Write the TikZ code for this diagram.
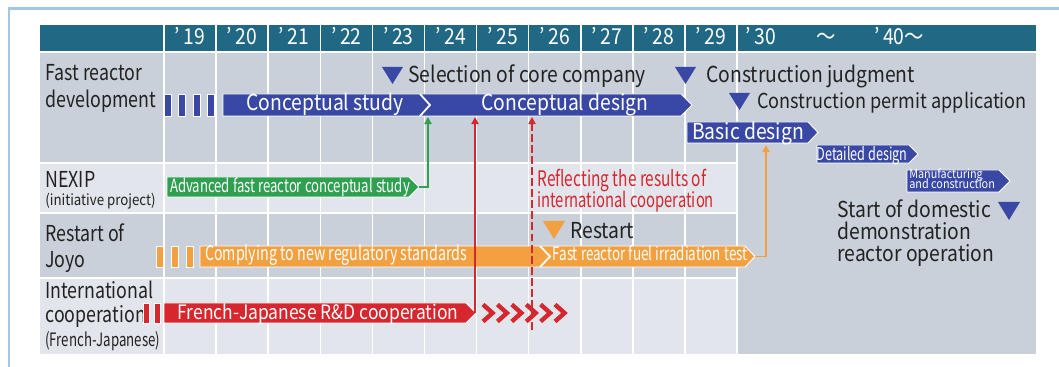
\documentclass[tikz,border=0pt]{standalone}
\usepackage{fontspec}
\setmainfont{Noto Sans CJK JP}[FakeStretch=0.88]
\newfontfamily\narrowfont[FakeStretch=0.72]{Noto Sans CJK JP}
\newfontfamily\labelfont[FakeStretch=0.81]{Noto Sans CJK JP}
\usetikzlibrary{arrows.meta}

\definecolor{frameblue}{RGB}{160,198,234}
\definecolor{headteal}{RGB}{32,104,132}
\definecolor{rowdark}{RGB}{201,208,218}
\definecolor{rowlight}{RGB}{226,230,236}
\definecolor{barblue}{RGB}{56,72,164}
\definecolor{bargreen}{RGB}{46,160,80}
\definecolor{barorange}{RGB}{242,160,64}
\definecolor{barred}{RGB}{214,38,46}
\definecolor{inkgray}{RGB}{34,34,34}

\begin{document}
\begin{tikzpicture}[x=0.02cm, y=-0.02cm, >={Triangle[length=4pt,width=4pt]},
	every node/.style={inner sep=0pt, font=\fontsize{12.5}{14}\selectfont, text=inkgray},
	yearlab/.style={anchor=base, text=white},
	rowlab/.style={anchor=base west},
	headlab/.style={anchor=base west, font=\labelfont\fontsize{12.5}{14}\selectfont},
	bartext/.style={anchor=base, text=white},
	narrow/.style={font=\narrowfont\fontsize{#1}{12}\selectfont},
	narrow/.default=10.4,
	tinytext/.style={anchor=base west, text=white, font=\fontsize{7}{7}\selectfont},
	gbar/.style={fill=#1, draw=white, line width=0.5pt},
	link/.style={draw=#1, line width=1.1pt}]
	\useasboundingbox (0,0) rectangle (1059,367);
	% frame and table background
	\draw[frameblue, line width=1.7pt] (9,367) -- (9,9) -- (1059,9);
	\fill[headteal] (40,25) rectangle (1036,52);
	\fill[rowdark] (40,52) rectangle (1036,163);
	\fill[rowlight] (40,163) rectangle (737,213);
	\fill[rowdark] (40,213) rectangle (737,278);
	\fill[rowlight] (40,278) rectangle (737,354);
	\fill[rowdark] (737,163) rectangle (1036,354);
	\foreach \x in {164,216.1,268.2,320.3,372.4,424.5,476.6,528.7,580.8,632.9,685,737.1}
		\draw[white, line width=0.9pt] (\x,25) -- (\x,354);
	\draw[white, line width=1.2pt] (40,52) -- (1036,52);
	\foreach \y in {163,213,278}
		\draw[white, line width=1.2pt] (40,\y) -- (737,\y);
	% years
	\foreach \yr [count=\i from 0] in {19,...,29}
		\node[yearlab] (yr\yr) at (190+52.1*\i,45) {’\,\yr};
	\node[yearlab] (yr30) at (761,45) {’\,30};
	\node[yearlab] (yrsim) at (826,45) {～};
	\node[yearlab] (yr40) at (899,45) {’\,40～};
	% row labels
	\node[headlab] (fr-a) at (45,81) {Fast reactor};
	\node[headlab] (fr-b) at (45,108) {development};
	\node[headlab] (nx-a) at (45,188) {NEXIP};
	\node[rowlab, font=\fontsize{8.6}{10}\selectfont] (nx-b) at (45,206) {(initiative project)};
	\node[headlab] (jy-a) at (45,242) {Restart of};
	\node[headlab] (jy-b) at (45,268) {Joyo};
	\node[headlab] (ic-a) at (45,299) {International};
	\node[headlab] (ic-b) at (45,323) {cooperation};
	\node[rowlab, narrow=10.5] (ic-c) at (45,347) {(French-Japanese)};

	% fast reactor development
	\foreach \x in {164,178.5,193,207}
		\filldraw[gbar=barblue] (\x,94) rectangle ++(7,22);
	\filldraw[gbar=barblue] (223,94) -- (681,94) -- (692,105) -- (681,116) -- (223,116) -- cycle;
	\draw[white, line width=1pt] (420,94) -- (430,105) -- (420,116);
	\node[bartext] (cstudy) at (325,111) {Conceptual study};
	\node[bartext] (cdesign) at (565,111) {Conceptual design};
	\filldraw[gbar=barblue] (687,122) -- (808,122) -- (818,132.5) -- (808,143) -- (687,143) -- cycle;
	\node[bartext] (basic) at (748,140) {Basic design};
	\filldraw[gbar=barblue] (817,145) -- (909,145) -- (918,154) -- (909,163) -- (817,163) -- cycle;
	\node[bartext, narrow=10] (detail) at (862,161) {Detailed design};
	\filldraw[gbar=barblue] (907,170) -- (999,170) -- (1010,181) -- (999,192) -- (907,192) -- cycle;
	\node[tinytext] (manuf-a) at (909,179) {Manufacturing};
	\node[tinytext] (manuf-b) at (909,189) {and construction};
	\fill[barblue] (382,67) -- (403,67) -- (392.5,84) -- cycle;
	\node[rowlab] (select) at (408,83) {Selection of core company};
	\fill[barblue] (675,67) -- (696,67) -- (685.5,84) -- cycle;
	\node[rowlab] (judge) at (706,83) {Construction judgment};
	\fill[barblue] (729,93) -- (750,93) -- (739.5,110) -- cycle;
	\node[rowlab, font=\fontsize{11.7}{14}\selectfont] (permit) at (757,109) {Construction permit application};
	\fill[barblue] (998,202) -- (1020,202) -- (1009,220) -- cycle;
	\node[rowlab] (demo-a) at (837,218) {Start of domestic};
	\node[rowlab] (demo-b) at (837,240) {demonstration};
	\node[rowlab] (demo-c) at (837,262) {reactor operation};

	% NEXIP
	\filldraw[gbar=bargreen] (167,177) -- (409,177) -- (419,187) -- (409,197) -- (167,197) -- cycle;
	\node[bartext, narrow] (nexip) at (290,193) {Advanced fast reactor conceptual study};
	\node[rowlab, narrow=12.2, text=barred] (refl-a) at (537,187) {Reflecting the results of};
	\node[rowlab, narrow=11.7, text=barred] (refl-b) at (537,208) {international cooperation};

	% Joyo
	\foreach \x in {156,171,186}
		\filldraw[gbar=barorange] (\x,246) rectangle ++(7,21);
	\filldraw[gbar=barorange] (200,246) -- (745,246) -- (755,256.5) -- (745,267) -- (200,267) -- cycle;
	\draw[white, line width=1pt] (540,246) -- (550,256.5) -- (540,267);
	\node[bartext, narrow=11.3] (comply) at (336,261) {Complying to new regulatory standards};
	\node[bartext, narrow=10.6] (irrad) at (650,261) {Fast reactor fuel irradiation test};
	\fill[barorange] (543,221) -- (565,221) -- (554,239) -- cycle;
	\node[rowlab] (restart) at (570,239) {Restart};

	% international cooperation
	\foreach \x in {143,154}
		\filldraw[gbar=barred] (\x,303) rectangle ++(6,20);
	\filldraw[gbar=barred] (164,303) -- (466,303) -- (476,313) -- (466,323) -- (164,323) -- cycle;
	\node[bartext, font=\fontsize{11.3}{14}\selectfont] (fjrd) at (318,320) {French-Japanese R\&D cooperation};
	\foreach \i in {0,...,5}
		\draw[barred, line width=2.5pt] (483+14.4*\i,304.5) -- (492.5+14.4*\i,313) -- (483+14.4*\i,321.5);

	% links into the design bars
	\coordinate (nexip-tip) at (419,187);
	\coordinate (cd-in-a) at (428,117);
	\coordinate (fj-tip) at (475,313);
	\coordinate (cd-in-b) at (475,117);
	\coordinate (refl-foot) at (532,330);
	\coordinate (cd-in-c) at (532,117);
	\coordinate (irr-tip) at (755,256.5);
	\coordinate (bd-in) at (766,145);
	\draw[link=bargreen, ->] (nexip-tip) -| (cd-in-a);
	\draw[link=barred, ->] (fj-tip) -- (cd-in-b);
	\draw[link=barred, dash pattern=on 4.5pt off 1.8pt, ->] (refl-foot) -- (cd-in-c);
	\draw[link=barorange, ->] (irr-tip) -| (bd-in);
\end{tikzpicture}
\end{document}
